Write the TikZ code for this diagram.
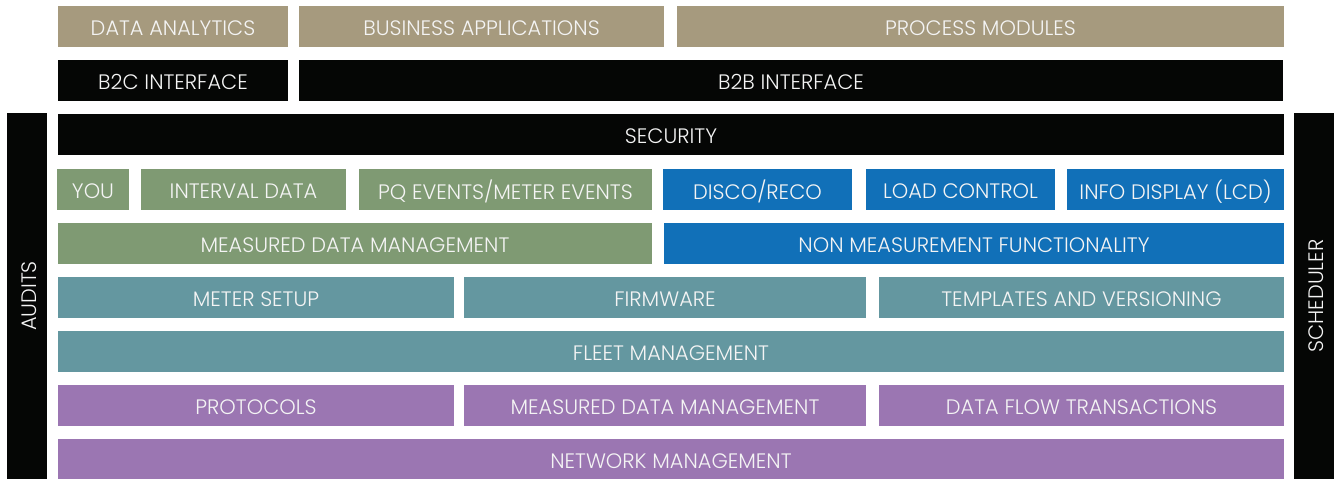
\documentclass[tikz,border=0pt]{standalone}
\usepackage{fontspec}
\setmainfont{Poppins}[UprightFont={* Light}]
\definecolor{tan}{HTML}{A69A7E}
\definecolor{blk}{HTML}{050605}
\definecolor{grn}{HTML}{7F9A73}
\definecolor{blu}{HTML}{1170B8}
\definecolor{teal2}{HTML}{6497A0}
\definecolor{purp}{HTML}{9B76B2}
\definecolor{txt}{HTML}{F4F4F4}
\newcommand{\blk}[7]{%
  \node[layer, fill=#6, minimum width={(#4-#2)*1pt}, minimum height={(#5-#3)*1pt}]
    (#1) at ({(#2+#4)/2},{(#3+#5)/2}) {};
  \node[lbl] (#1-t) at (#1.center) {#7};}
\begin{document}
\begin{tikzpicture}[x=1pt,y=-1pt,
  layer/.style={inner sep=0pt, outer sep=0pt},
  lbl/.style={inner sep=0pt, text=txt, yshift=-2pt,
    font=\fontsize{20.9}{24}\selectfont}]
\useasboundingbox (0,0) rectangle (1336,479);
% row 1
\blk{da}{58}{6}{288}{46.7}{tan}{DATA ANALYTICS}
\blk{ba}{299}{6}{664}{46.7}{tan}{BUSINESS APPLICATIONS}
\blk{pm}{677}{6}{1284}{46.7}{tan}{PROCESS MODULES}
% row 2
\blk{b2c}{58}{60}{288}{100.7}{blk}{B2C INTERFACE}
\blk{b2b}{299}{60}{1283}{100.7}{blk}{B2B INTERFACE}
% row 3
\blk{sec}{58}{114}{1284}{154.7}{blk}{SECURITY}
% row 4
\blk{you}{57}{169}{129}{209.7}{grn}{YOU}
\blk{iv}{141}{169}{346}{209.7}{grn}{INTERVAL DATA}
\blk{pq}{359}{169}{652}{209.7}{grn}{PQ EVENTS/METER EVENTS}
\blk{dr}{663}{169}{852}{209.7}{blu}{DISCO/RECO}
\blk{lc}{866}{169}{1055}{209.7}{blu}{LOAD CONTROL}
\blk{id}{1067}{169}{1284}{209.7}{blu}{INFO DISPLAY (LCD)}
% row 5
\blk{mdm}{58}{223}{652}{263.7}{grn}{MEASURED DATA MANAGEMENT}
\blk{nmf}{664}{223}{1284}{263.7}{blu}{NON MEASUREMENT FUNCTIONALITY}
% row 6
\blk{ms}{58}{277}{454}{317.7}{teal2}{METER SETUP}
\blk{fw}{464}{277}{866}{317.7}{teal2}{FIRMWARE}
\blk{tv}{879}{277}{1284}{317.7}{teal2}{TEMPLATES AND VERSIONING}
% row 7
\blk{fm}{58}{331}{1284}{371.7}{teal2}{FLEET MANAGEMENT}
% row 8
\blk{pr}{58}{385}{454}{425.7}{purp}{PROTOCOLS}
\blk{mdm2}{464}{385}{866}{425.7}{purp}{MEASURED DATA MANAGEMENT}
\blk{dft}{879}{385}{1284}{425.7}{purp}{DATA FLOW TRANSACTIONS}
% row 9
\blk{nm}{58}{439}{1284}{479}{purp}{NETWORK MANAGEMENT}
% side bars
\node[layer, fill=blk, minimum width=40pt, minimum height=366pt] (aud) at (27,296) {};
\node[lbl, yshift=2pt, xshift=2pt, rotate=90] (audt) at (aud.center) {AUDITS};
\node[layer, fill=blk, minimum width=40pt, minimum height=366pt] (sch) at (1314,296) {};
\node[lbl, yshift=2pt, xshift=2pt, rotate=90] (scht) at (sch.center) {SCHEDULER};
\end{tikzpicture}
\end{document}
